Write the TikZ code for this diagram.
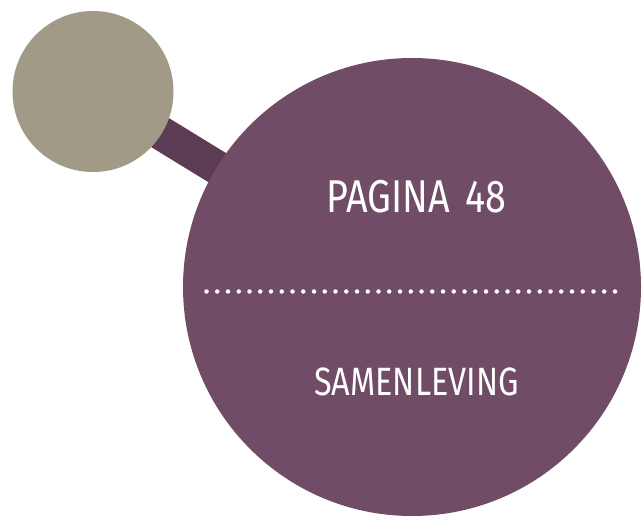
\documentclass[tikz,border=0pt]{standalone}
\usepackage{fontspec}
\newfontfamily\labelfont{Fira Sans}[FakeStretch=0.82]
\definecolor{plum}{HTML}{714C66}
\definecolor{plumdark}{HTML}{5C3C54}
\definecolor{stone}{HTML}{A09A86}
\tikzset{
  disc/.style={circle, inner sep=0pt, minimum size=#1},
  band/.style={line width=34pt, draw=plumdark},
  lbl/.style={text=white, font=\labelfont\fontsize{#1}{#1}\selectfont, inner sep=0pt, anchor=base},
  dotline/.style={draw=white, line width=4.5pt, line cap=round, dash pattern=on 0pt off 10.75pt}
}
\begin{document}
\begin{tikzpicture}[x=1pt,y=-1pt]
\fill[white] (0,0) rectangle (642,521);
\useasboundingbox (0,0) rectangle (642,521);
\coordinate (sc) at (93,91.5);
\coordinate (bc) at (412,287);
\draw[band] (sc) -- (bc);
\node[disc=161pt, fill=stone] (small) at (sc) {};
\node[disc=458pt, fill=plum] (big) at (bc) {};
\node[lbl=46pt] (page) at (416.5,213) {PAGINA\hspace{6pt} 48};
\coordinate (d1) at (206.5,291.5);
\coordinate (d2) at (624,291.5);
\draw[dotline] (d1) -- (d2);
\node[lbl=39.5pt] (topic) at (416.5,395.5) {SAMENLEVING};
\end{tikzpicture}
\end{document}
